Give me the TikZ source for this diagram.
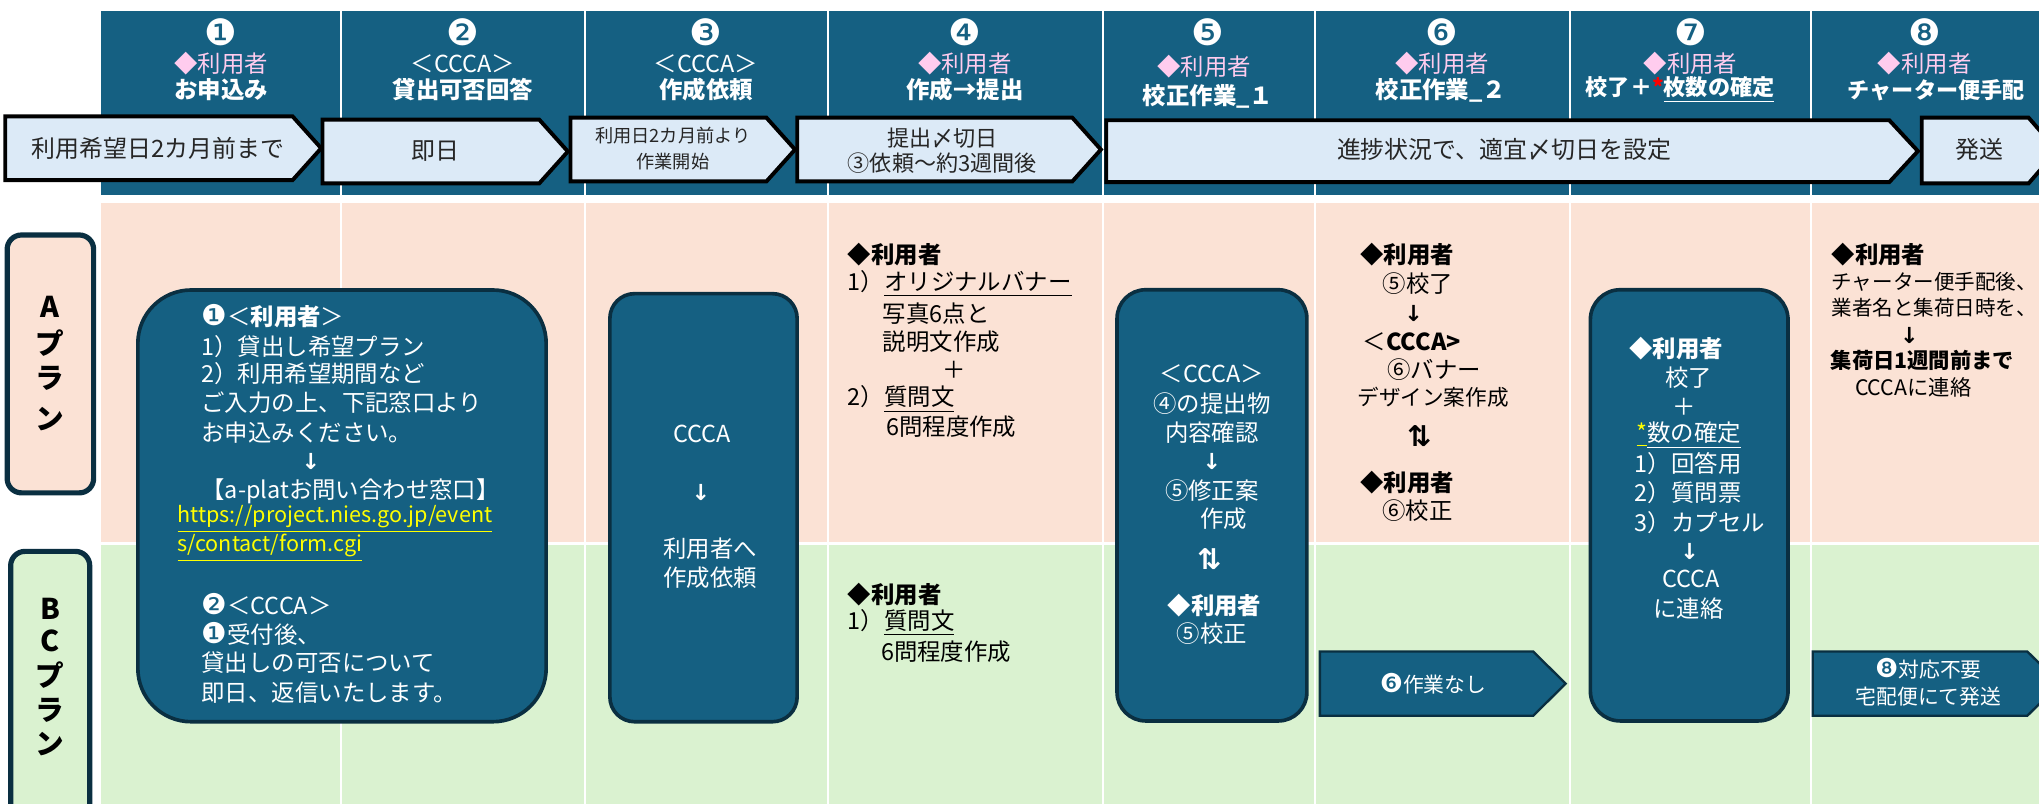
\documentclass[tikz,border=0pt]{standalone}
\usepackage{fontspec}
\setmainfont{Noto Sans CJK JP}
\newfontfamily\dv{DejaVu Sans}
\definecolor{teal1}{HTML}{156082}
\definecolor{navy}{HTML}{0A2F41}
\definecolor{pinkbg}{HTML}{FBE2D5}
\definecolor{greenbg}{HTML}{DAF2D0}
\definecolor{chevbg}{HTML}{DCEAF7}
\definecolor{pinktx}{HTML}{FFCCEE}
\definecolor{chevtx}{HTML}{262626}
\definecolor{yel}{HTML}{FFFF00}
\newcommand\myfs[1]{\fontsize{#1}{#1}\selectfont}
\newcommand\dig[1]{{\dv\myfs{11}#1}}
\begin{document}
\begin{tikzpicture}[x=0.5pt,y=-0.5pt,
  every node/.style={inner sep=0pt,outer sep=0pt},
  hnum/.style={text=white,font=\dv\myfs{14}},
  hsub/.style={font=\myfs{9}},
  htitle/.style={text=white,font=\bfseries\myfs{9}},
  chev/.style={draw=black,line width=1.5pt,fill=chevbg,line join=miter},
  dchev/.style={draw=navy,line width=0.9pt,fill=teal1},
  ctext/.style={text=chevtx,font=\myfs{9.2}},
  bigbox/.style={draw=navy,line width=1.4pt,fill=teal1},
  side/.style={draw=navy,line width=2pt,rounded corners=5.5pt},
  sidetx/.style={text=black,font=\bfseries\myfs{11}},
  w/.style={text=white,font=\myfs{9}},
  k/.style={text=black,font=\myfs{9}},
  warr/.style={text=white,font=\dv\bfseries\myfs{8.5}},
  karr/.style={text=black,font=\dv\bfseries\myfs{8.5}},
  updown/.style={font=\dv\bfseries\myfs{11}},
]
\useasboundingbox (0,0) rectangle (1568,618);
\fill[white] (0,0) rectangle (1568,618);
% grid
\fill[teal1] (78,8.5) rectangle (1568,150);
\fill[pinkbg] (78,156) rectangle (1568,418);
\fill[greenbg] (78,418) rectangle (1568,618);
\foreach \x in {262,450,636.5,848,1011.5,1207,1392.5}
  \draw[white,line width=0.8pt] (\x,8.5) -- (\x,618);
\draw[white,line width=1pt] (78,418) -- (1568,418);

% header
\node[hnum] (n1) at (170,25) {❶};
\node[hsub,text=pinktx] (s1) at (170,48.7) {◆利用者};
\node[htitle] (t1) at (170,69.2) {お申込み};
\node[hnum] (n2) at (356,25) {❷};
\node[hsub,text=white] (s2) at (356,48.7) {＜CCCA＞};
\node[htitle] (t2) at (356,69.2) {貸出可否回答};
\node[hnum] (n3) at (543,25) {❸};
\node[hsub,text=white] (s3) at (543,48.7) {＜CCCA＞};
\node[htitle] (t3) at (543,69.2) {作成依頼};
\node[hnum] (n4) at (742,25) {❹};
\node[hsub,text=pinktx] (s4) at (742,48.7) {◆利用者};
\node[htitle] (t4) at (742,69.2) {作成→提出};
\node[hnum] (n5) at (929,25) {❺};
\node[hsub,text=pinktx] (s5) at (926,51.3) {◆利用者};
\node[htitle] (t5) at (929,74.4) {校正作業\_１};
\node[hnum] (n6) at (1109,25) {❻};
\node[hsub,text=pinktx] (s6) at (1109,48.7) {◆利用者};
\node[htitle] (t6) at (1108,69.2) {校正作業\_２};
\node[hnum] (n7) at (1300,25) {❼};
\node[hsub,text=pinktx] (s7) at (1300,48.7) {◆利用者};
\node[htitle,font=\bfseries\myfs{8.5}] (t7) at (1292,69.2) {校了＋{\color{red}*}\underline{枚数の確定}};
\node[hnum] (n8) at (1480,25) {❽};
\node[hsub,text=pinktx] (s8) at (1480,48.7) {◆利用者};
\node[htitle,font=\bfseries\myfs{8.5}] (t8) at (1489,69.2) {チャーター便手配};

% schedule chevrons
\draw[chev] (4,89.5) -- (225,89.5) -- (247,114) -- (225,138.5) -- (4,138.5) -- cycle;
\node[ctext] (c1) at (121.4,114) {利用希望日2カ月前まで};
\draw[chev] (248,92) -- (414.7,92) -- (436.7,116.5) -- (414.7,141) -- (248,141) -- cycle;
\node[ctext] (c2) at (334.7,116) {即日};
\draw[chev] (438.7,90.5) -- (589.4,90.5) -- (611.4,115) -- (589.4,139.5) -- (438.7,139.5) -- cycle;
\node[ctext,font=\myfs{7}] (c3a) at (517.5,104) {利用日2カ月前より};
\node[ctext,font=\myfs{7}] (c3b) at (517.5,124.5) {作業開始};
\draw[chev] (613.1,90.5) -- (824.6,90.5) -- (846.6,115) -- (824.6,139.5) -- (613.1,139.5) -- cycle;
\node[ctext,font=\myfs{8.5}] (c4a) at (724.7,106.4) {提出〆切日};
\node[ctext,font=\myfs{8.5}] (c4b) at (724.7,125.6) {③依頼～約3週間後};
\draw[chev] (850.7,92.5) -- (1452.9,92.5) -- (1474.9,116.2) -- (1452.9,140) -- (850.7,140) -- cycle;
\node[ctext] (c5) at (1156.6,115.3) {進捗状況で、適宜〆切日を設定};
\draw[chev] (1477.8,90.5) -- (1560,90.5) -- (1582,115.7) -- (1560,141) -- (1477.8,141) -- cycle;
\node[ctext] (c6) at (1522,115.3) {発送};

% side labels
\draw[side,fill=pinkbg] (5.5,180.7) rectangle (72,379);
\node[sidetx] (sa1) at (38.5,236) {A};
\node[sidetx] (sa2) at (38.5,264) {プ};
\node[sidetx] (sa3) at (38.5,291) {ラ};
\node[sidetx] (sa4) at (38.5,322) {ン};
\draw[side,fill=greenbg] (8.2,424) rectangle (69,660);
\node[sidetx] (sb1) at (38.5,468) {B};
\node[sidetx] (sb2) at (38.5,493) {C};
\node[sidetx] (sb3) at (38.5,519) {プ};
\node[sidetx] (sb4) at (38.5,546) {ラ};
\node[sidetx] (sb5) at (38.5,572) {ン};

% box 1
\draw[bigbox,rounded corners=20.5pt] (106,223) rectangle (420,555);
\node[w,anchor=west] (b1l1) at (155,243) {\dig{❶}＜\textbf{利用者}＞};
\node[w,anchor=west] (b1l2) at (155,266.4) {1）貸出し希望プラン};
\node[w,anchor=west] (b1l3) at (155,287.4) {2）利用希望期間など};
\node[w,anchor=west] (b1l4) at (155,309.9) {ご入力の上、下記窓口より};
\node[w,anchor=west] (b1l5) at (155,332.5) {お申込みください。};
\node[warr] (b1a) at (239,355) {↓};
\node[w,anchor=west] (b1l6) at (155,377.6) {【a-platお問い合わせ窓口】};
\node[w,anchor=west,text=yel,font=\myfs{8.3}] (b1u1) at (136.5,399.5) {\underline{https://project.nies.go.jp/event}};
\node[w,anchor=west,text=yel,font=\myfs{8.3}] (b1u2) at (136.5,421.2) {\underline{s/contact/form.cgi}};
\node[w,anchor=west] (b1l7) at (155,464.8) {\dig{❷}＜CCCA＞};
\node[w,anchor=west] (b1l8) at (155,487.3) {\dig{❶}受付後、};
\node[w,anchor=west] (b1l9) at (155,509.9) {貸出しの可否について};
\node[w,anchor=west] (b1l10) at (155,532.4) {即日、返信いたします。};

% box 2
\draw[bigbox,rounded corners=9.5pt] (469,225.8) rectangle (613,555);
\node[w] (b2l1) at (540,334) {CCCA};
\node[warr] (b2a) at (539,379) {↓};
\node[w] (b2l2) at (546,422) {利用者へ};
\node[w] (b2l3) at (546,444.6) {作成依頼};

% column 4 texts
\node[k,anchor=west] (p4l1) at (652,195.7) {\textbf{◆利用者}};
\node[k,anchor=west] (p4l2) at (652,218.3) {1）\underline{オリジナルバナー}};
\node[k,anchor=west] (p4l3) at (679,240.9) {写真6点と};
\node[k,anchor=west] (p4l4) at (679,262.8) {説明文作成};
\node[k] (p4l5) at (733.8,284.4) {＋};
\node[k,anchor=west] (p4l6) at (652,306.9) {2）\underline{質問文}};
\node[k,anchor=west] (p4l7) at (681.5,328) {6問程度作成};
\node[k,anchor=west] (g4l1) at (652,457.3) {\textbf{◆利用者}};
\node[k,anchor=west] (g4l2) at (652,479) {1）\underline{質問文}};
\node[k,anchor=west] (g4l3) at (677.6,500.8) {6問程度作成};

% box 3
\draw[bigbox,rounded corners=11pt] (859,222.8) rectangle (1005,554.4);
\node[w] (b3l1) at (932,287.4) {＜CCCA＞};
\node[w] (b3l2) at (932,310) {④の提出物};
\node[w] (b3l3) at (932,332.5) {内容確認};
\node[warr] (b3a) at (932,355) {↓};
\node[w] (b3l4) at (932,377) {⑤修正案};
\node[w] (b3l5) at (941,398.6) {作成};
\node[updown,text=white] (b3ud) at (930,430) {⇅};
\node[w] (b3l6) at (934,465.4) {\textbf{◆利用者}};
\node[w] (b3l7) at (932,487.3) {⑤校正};

% column 6 texts
\node[k,anchor=west] (p6l1) at (1046,195.7) {\textbf{◆利用者}};
\node[k,anchor=west] (p6l2) at (1063.4,218.3) {⑤校了};
\node[karr] (p6a) at (1087,240.9) {↓};
\node[k,anchor=west] (p6l3) at (1048,262.8) {＜\textbf{CCCA>}};
\node[k,anchor=west] (p6l4) at (1067,284.4) {⑥バナー};
\node[k,anchor=west,font=\myfs{8.3}] (p6l5) at (1044,305.4) {デザイン案作成};
\node[updown,text=black] (p6ud) at (1091.5,335) {⇅};
\node[k,anchor=west] (p6l6) at (1046,371) {\textbf{◆利用者}};
\node[k,anchor=west] (p6l7) at (1063,392.6) {⑥校正};
\draw[dchev] (1015,501) -- (1179,501) -- (1204,525.7) -- (1179,550.4) -- (1015,550.4) -- cycle;
\node[w,font=\myfs{8}] (d6) at (1102,525.5) {{\dv\myfs{10}❻}作業なし};

% box 4
\draw[bigbox,rounded corners=11.5pt] (1223,222.8) rectangle (1375,554.4);
\node[w] (b4l1) at (1289,267.9) {\textbf{◆利用者}};
\node[w] (b4l2) at (1298.6,290.4) {校了};
\node[w] (b4l3) at (1295,313) {＋};
\node[w] (b4l4) at (1298.7,334.9) {{\color{yel}\underline{*}}\underline{数の確定}};
\node[w,anchor=west] (b4l5) at (1257.3,356.6) {1）回答用};
\node[w,anchor=west] (b4l6) at (1257.3,379) {2）質問票};
\node[w,anchor=west] (b4l7) at (1257.3,401.6) {3）カプセル};
\node[warr] (b4a) at (1299.3,424.2) {↓};
\node[w] (b4l8) at (1300.3,445.3) {CCCA};
\node[w] (b4l9) at (1298.6,467.8) {に連絡};

% column 8 texts
\node[k,anchor=west] (p8l1) at (1408.5,195.7) {\textbf{◆利用者}};
\node[k,anchor=west,font=\myfs{7.9}] (p8l2) at (1408.5,216.8) {チャーター便手配後、};
\node[k,anchor=west,font=\myfs{7.9}] (p8l3) at (1408.5,236.3) {業者名と集荷日時を、};
\node[karr] (p8a) at (1468.3,258) {↓};
\node[k,anchor=west,font=\bfseries\myfs{8.2}] (p8l4) at (1407.8,277.5) {集荷日1週間前まで};
\node[k,anchor=west,font=\myfs{8.2}] (p8l5) at (1426.5,298) {CCCAに連絡};
\draw[dchev] (1394,501) -- (1559,501) -- (1584,525.7) -- (1559,550.4) -- (1394,550.4) -- cycle;
\node[w,font=\myfs{8}] (d8a) at (1483,514.5) {{\dv\myfs{10}❽}対応不要};
\node[w,font=\myfs{8}] (d8b) at (1483,536) {宅配便にて発送};
\end{tikzpicture}
\end{document}
